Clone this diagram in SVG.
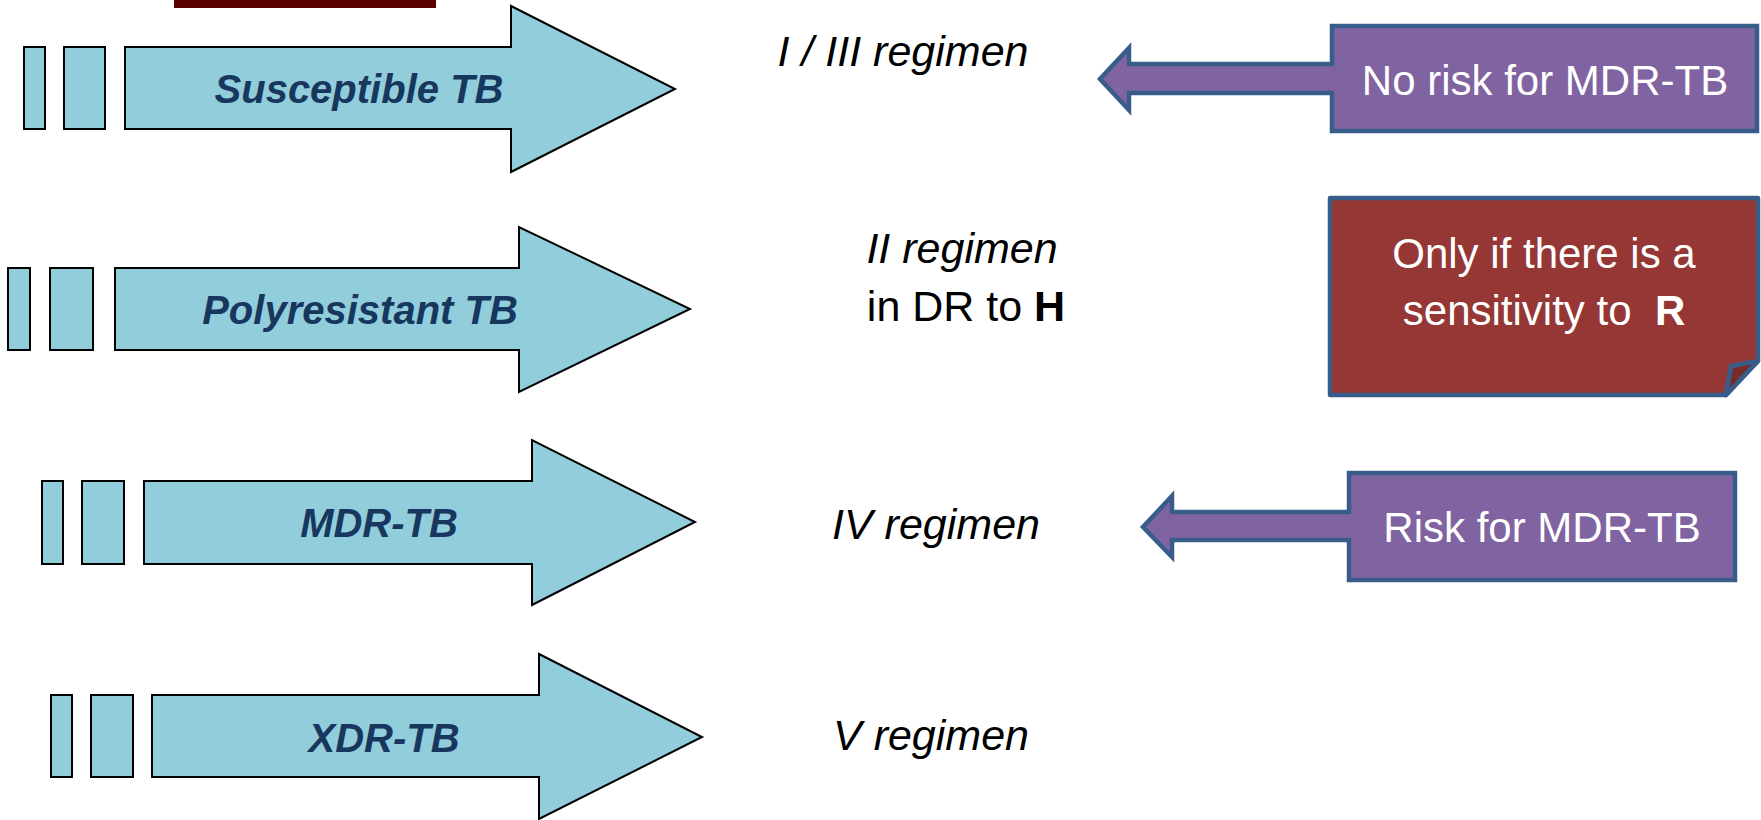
<svg xmlns="http://www.w3.org/2000/svg" width="1761" height="820" viewBox="0 0 1761 820">
<style>
.blk{fill:#92CDDC;stroke:#000;stroke-width:2;stroke-linejoin:miter}
.lbl{font-family:"Liberation Sans",Arial,sans-serif;font-weight:bold;font-style:italic;font-size:40px;fill:#17375E;text-anchor:middle}
.reg{font-family:"Liberation Sans",Arial,sans-serif;font-size:43px;fill:#000;text-anchor:middle}
.it{font-style:italic}
.call{fill:#8064A2;stroke:#385D8A;stroke-width:4.5;stroke-linejoin:miter}
.wt{font-family:"Liberation Sans",Arial,sans-serif;font-size:42px;fill:#fff;text-anchor:middle}
</style>
<rect x="0" y="0" width="1761" height="820" fill="#fff"/>
<rect id="topbar" x="174" y="0" width="262" height="8" fill="#5C0000"/>

<g id="arrow-susceptible">
<rect class="blk" x="24" y="47" width="21" height="82"/>
<rect class="blk" x="64" y="47" width="41" height="82"/>
<path class="blk" d="M125,47 H511 V6 L675,89 L511,172 V129 H125 Z"/>
<text class="lbl" x="359" y="103">Susceptible TB</text>
</g>

<g id="arrow-polyresistant">
<rect class="blk" x="8" y="268" width="22" height="82"/>
<rect class="blk" x="50" y="268" width="43" height="82"/>
<path class="blk" d="M115,268 H519 V227 L690,309 L519,392 V350 H115 Z"/>
<text class="lbl" x="360" y="324">Polyresistant TB</text>
</g>

<g id="arrow-mdr">
<rect class="blk" x="42" y="481" width="21" height="83"/>
<rect class="blk" x="82" y="481" width="42" height="83"/>
<path class="blk" d="M144,481 H532 V440 L695,522 L532,605 V564 H144 Z"/>
<text class="lbl" x="379" y="537">MDR-TB</text>
</g>

<g id="arrow-xdr">
<rect class="blk" x="51" y="695" width="21" height="82"/>
<rect class="blk" x="91" y="695" width="42" height="82"/>
<path class="blk" d="M152,695 H539 V654 L702,737 L539,819 V777 H152 Z"/>
<text class="lbl" x="384" y="752">XDR-TB</text>
</g>

<g id="regimen-1"><text class="reg it" x="903" y="66">I / III regimen</text></g>
<g id="regimen-2">
<text class="reg it" x="962" y="263">II regimen</text>
<text class="reg" x="966" y="321">in DR to <tspan font-weight="bold">H</tspan></text>
</g>
<g id="regimen-4"><text class="reg it" x="936" y="539">IV regimen</text></g>
<g id="regimen-5"><text class="reg it" x="931" y="750">V regimen</text></g>

<g id="callout-no-risk">
<path class="call" d="M1332,26 H1757 V131 H1332 V93 H1129 V110 L1100,79 L1129,48 V64 H1332 Z"/>
<text class="wt" x="1545" y="95">No risk for MDR-TB</text>
</g>

<g id="note-sensitivity">
<path d="M1330,198 H1758 V361 L1726,395 H1330 Z" fill="#953735" stroke="#385D8A" stroke-width="4.5" stroke-linejoin="round"/>
<path d="M1726,395 L1731,366 L1758,361 Z" fill="#772C2A" stroke="#385D8A" stroke-width="4.5" stroke-linejoin="round"/>
<text class="wt" x="1544" y="268">Only if there is a</text>
<text class="wt" x="1544" y="325">sensitivity to&#160; <tspan font-weight="bold">R</tspan></text>
</g>

<g id="callout-risk">
<path class="call" d="M1349,473 H1735 V580 H1349 V540 H1172 V557 L1143,527 L1172,496 V512 H1349 Z"/>
<text class="wt" x="1542" y="542">Risk for MDR-TB</text>
</g>

<g id="connectors"></g>
</svg>
